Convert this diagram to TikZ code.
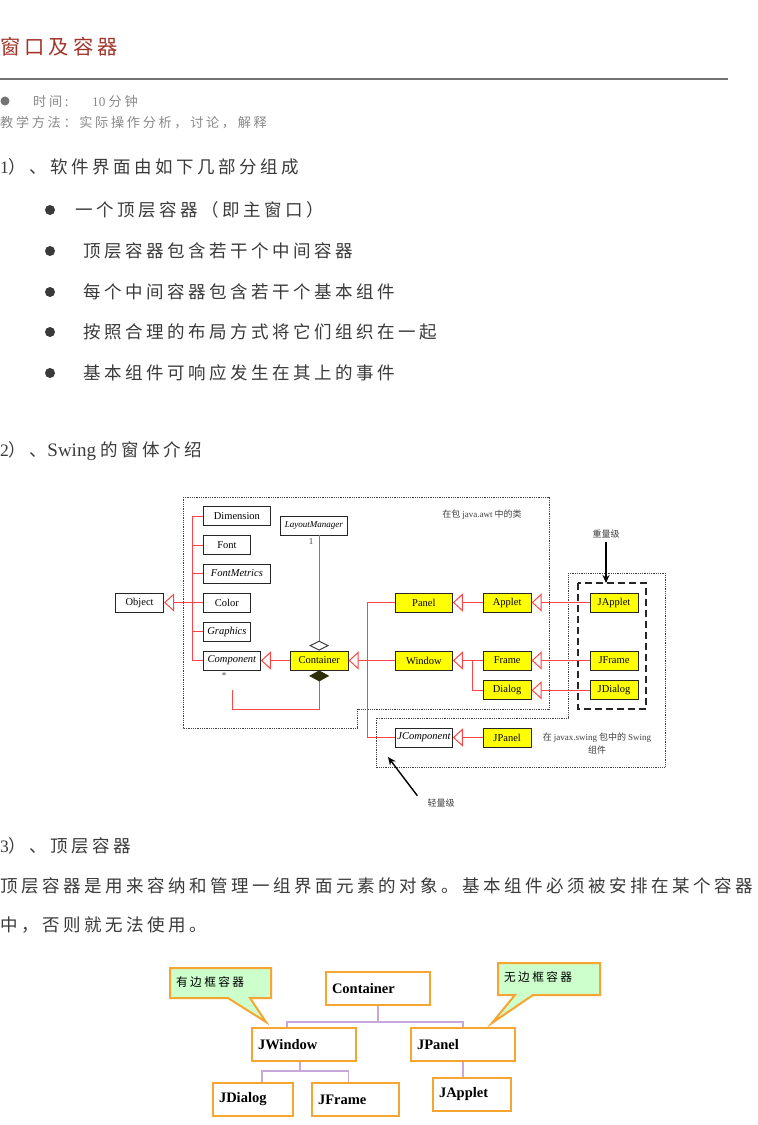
\documentclass[tikz,border=0pt]{standalone}
\usepackage{fontspec}
\setmainfont{Liberation Serif}
\newfontfamily\cjk[LetterSpace=20]{Noto Sans CJK SC}
\newfontfamily\cjksm{Noto Sans CJK SC}
\usetikzlibrary{arrows.meta,positioning,calc}
\definecolor{wintitle}{HTML}{A3342A}
\definecolor{wingray}{HTML}{8A8A8A}
\definecolor{winink}{HTML}{3A3A3A}
\definecolor{winred}{HTML}{FF4545}
\definecolor{winyellow}{HTML}{FFFF00}
\definecolor{winorange}{HTML}{F6A530}
\definecolor{wingreen}{HTML}{CCFFCC}
\definecolor{winlilac}{HTML}{C8A8DA}
\definecolor{winolive}{HTML}{2E2E08}
\newcommand{\pxsize}[1]{\fontsize{#1}{#1}\selectfont}
\tikzset{
  pageText/.style={anchor=base west, inner sep=0pt, text=winink},
  dotItem/.style={circle, fill=winink, inner sep=0pt, minimum size=10pt},
  classBox/.style={draw=black!85, fill=white, line width=0.8pt, minimum height=19pt, inner sep=0pt, anchor=west, font=\pxsize{10.5}},
  swingBox/.style={classBox, fill=winyellow},
  tagText/.style={inner sep=0pt, text=black!75, font=\fontsize{9}{13}\selectfont},
  umlLine/.style={draw=winred, line width=1pt},
  inheritArrow/.style={umlLine, -{Triangle[open, length=10pt, width=18pt]}},
  pkgFrame/.style={draw=black!75, line width=0.8pt, densely dotted},
  weightArrow/.style={-{Stealth[length=8pt, width=7pt]}, line width=1.4pt, draw=black},
  topBox/.style={draw=winorange, line width=2pt, fill=white, minimum height=33pt, inner xsep=6pt, align=left, font=\pxsize{14.5}\bfseries},
  treeLine/.style={draw=winlilac, line width=1.6pt},
  calloutShape/.style={draw=winorange, line width=2pt, fill=wingreen, line join=miter}
}
\begin{document}
\begin{tikzpicture}[x=1pt, y=-1pt]
  \useasboundingbox[fill=white] (0,0) rectangle (758,1125);

  % heading
  \node[pageText, text=wintitle, font=\cjk\pxsize{20.3}] (title) at (0,54.7) {窗口及容器};
  \draw[black!55, line width=1.2pt] (0,79) -- (728,79);
  \node[circle, fill=black!55, inner sep=0pt, minimum size=9pt] (timedot) at (5,101) {};
  \node[pageText, text=wingray, font=\cjk\pxsize{13.2}] (timetext) at (33,106) {时间:};
  \node[pageText, text=wingray, font=\pxsize{13.2}] (timeval) at (92,106) {10 {\cjk 分钟}};
  \node[pageText, text=wingray, font=\cjk\pxsize{13.2}] (method) at (0,127) {教学方法：实际操作分析，讨论，解释};

  % part 1
  \node[pageText, font=\pxsize{17.5}] (sec1) at (0,173.6) {1{\cjk ）、软件界面由如下几部分组成}};
  \node[dotItem] (dot1) at (50,210) {};
  \node[pageText, font=\cjk\pxsize{17.5}] (item1) at (75,216.6) {一个顶层容器（即主窗口）};
  \node[dotItem] (dot2) at (50,251) {};
  \node[pageText, font=\cjk\pxsize{17.5}] (item2) at (83,257.6) {顶层容器包含若干个中间容器};
  \node[dotItem] (dot3) at (50,292) {};
  \node[pageText, font=\cjk\pxsize{17.5}] (item3) at (83,298.6) {每个中间容器包含若干个基本组件};
  \node[dotItem] (dot4) at (50,332) {};
  \node[pageText, font=\cjk\pxsize{17.5}] (item4) at (83,338.6) {按照合理的布局方式将它们组织在一起};
  \node[dotItem] (dot5) at (50,373) {};
  \node[pageText, font=\cjk\pxsize{17.5}] (item5) at (83,379.6) {基本组件可响应发生在其上的事件};

  % part 2
  \node[pageText, font=\pxsize{17.5}] (sec2) at (0,456.6) {2{\cjk ）、}{\pxsize{19}Swing} {\cjk 的窗体介绍}};

  % package frames
  \draw[pkgFrame] (183,497) -- (549,497) -- (549,709) -- (357,709) -- (357,728) -- (183,728) -- cycle;
  \draw[pkgFrame] (568,573) -- (665,573) -- (665,767) -- (376,767) -- (376,718) -- (568,718) -- cycle;
  \draw[dashed, dash pattern=on 7pt off 4pt, line width=1.5pt, black!85] (578,583) rectangle (646,709);

  % classes
  \node[classBox, minimum width=67pt] (dimension) at (203,516) {Dimension};
  \node[classBox, minimum width=67pt, font=\pxsize{9}\itshape] (layout) at (280,525.5) {LayoutManager};
  \node[classBox, minimum width=47pt] (font) at (203,545) {Font};
  \node[classBox, minimum width=67pt, font=\pxsize{10.5}\itshape] (fontmetrics) at (203,573.5) {FontMetrics};
  \node[classBox, minimum width=47pt] (color) at (203,602.5) {Color};
  \node[classBox, minimum width=47pt, font=\pxsize{10.5}\itshape] (graphics) at (203,631.5) {Graphics};
  \node[classBox, minimum width=57pt, font=\pxsize{10.5}\itshape] (component) at (203,660.5) {Component};
  \node[classBox, minimum width=48pt, anchor=east, left=39pt of color] (object) {Object};
  \node[swingBox, minimum width=58pt, right=29pt of component] (container) {Container};
  \node[swingBox, minimum width=57pt] (panel) at (395,602.5) {Panel};
  \node[swingBox, minimum width=57pt] (window) at (395,660.5) {Window};
  \node[swingBox, minimum width=48pt, right=30pt of panel] (applet) {Applet};
  \node[swingBox, minimum width=48pt, right=30pt of window] (frame) {Frame};
  \node[swingBox, minimum width=48pt, anchor=north, below=10pt of frame] (dialog) {Dialog};
  \node[swingBox, minimum width=48pt, right=58pt of applet] (japplet) {JApplet};
  \node[swingBox, minimum width=48pt, right=58pt of frame] (jframe) {JFrame};
  \node[swingBox, minimum width=48pt, right=58pt of dialog] (jdialog) {JDialog};
  \node[classBox, minimum width=57pt, font=\pxsize{10.5}\itshape] (jcomponent) at (395,737.5) {JComponent};
  \node[swingBox, minimum width=48pt, right=30pt of jcomponent] (jpanel) {JPanel};
  \node[tagText] (onelabel) at (311,542) {1};
  \node[tagText] (manylabel) at (224,676) {*};

  % labels
  \node[tagText] (awtnote) at (482,515) {\cjksm 在包 {\rmfamily java.awt} 中的类};
  \node[tagText, font=\fontsize{9}{13}\cjksm, align=center] (swingnote) at (597,743.5) {在 {\rmfamily javax.swing} 包中的 {\rmfamily Swing}\\组件};
  \node[tagText] (heavylabel) at (606,534) {\cjksm 重量级};
  \node[tagText] (lightlabel) at (441,803) {\cjksm 轻量级};
  \coordinate (heavytip) at (606,583);
  \coordinate (lighttip) at (388,757);
  \coordinate (partend) at (232,690);

  % connectors
  \draw[umlLine] (dimension.west) -- ++(-11,0) |- (component.west);
  \draw[umlLine] (font.west) -- ++(-11,0);
  \draw[umlLine] (fontmetrics.west) -- ++(-11,0);
  \draw[umlLine] (graphics.west) -- ++(-11,0);
  \draw[inheritArrow] (color.west) -- (object.east);
  \draw[inheritArrow] (container.west) -- (component.east);
  \draw[umlLine, {Diamond[length=10pt, width=20pt, color=black!75, fill=white]}-] (container.north) -- (container.north |- layout.south);
  \draw[umlLine, {Diamond[length=11pt, width=20pt, color=winolive]}-] (container.south) -- ++(0,39) -| (partend);
  \draw[umlLine] (panel.west) -- ++(-28,0) |- (jcomponent.west);
  \draw[inheritArrow] (window.west) -- (container.east);
  \draw[inheritArrow] (applet.west) -- (panel.east);
  \draw[inheritArrow] (frame.west) -- (window.east);
  \draw[umlLine] (dialog.west) -- ++(-10,0) |- (frame.west);
  \draw[inheritArrow] (japplet.west) -- (applet.east);
  \draw[inheritArrow] (jframe.west) -- (frame.east);
  \draw[inheritArrow] (jdialog.west) -- (dialog.east);
  \draw[inheritArrow] (jpanel.west) -- (jcomponent.east);
  \draw[weightArrow] ([yshift=-4pt]heavylabel.south) -- (heavytip);
  \draw[weightArrow] ([xshift=-10pt, yshift=3pt]lightlabel.north west) -- (lighttip);

  % part 3
  \node[pageText, font=\pxsize{17.5}] (sec3) at (0,852.6) {3{\cjk ）、顶层容器}};
  \node[pageText, font=\cjk\pxsize{17.5}] (para1) at (0,892.6) {顶层容器是用来容纳和管理一组界面元素的对象。基本组件必须被安排在某个容器};
  \node[pageText, font=\cjk\pxsize{17.5}] (para2) at (0,931.6) {中，否则就无法使用。};

  % top-level containers
  \draw[calloutShape] (170,968) -- (271,968) -- (271,998) -- (250,998) -- (266,1022) -- (228,998) -- (170,998) -- cycle;
  \draw[calloutShape] (498,963) -- (600,963) -- (600,995) -- (533,995) -- (492,1023) -- (515,995) -- (498,995) -- cycle;
  \node[anchor=west, inner sep=0pt, font=\cjk\pxsize{11.7}] (framedtag) at (176,982) {有边框容器};
  \node[anchor=west, inner sep=0pt, font=\cjk\pxsize{11.7}] (plaintag) at (504,977) {无边框容器};
  \node[topBox, text width=92pt] (tcontainer) at (378,988.5) {Container};
  \node[topBox, text width=92pt] (tjwindow) at (304,1044.5) {JWindow};
  \node[topBox, text width=92pt] (tjpanel) at (463,1044.5) {JPanel};
  \node[topBox, text width=68pt] (tjdialog) at (253,1099.5) {JDialog};
  \node[topBox, text width=75pt] (tjframe) at (355.5,1099.5) {JFrame};
  \node[topBox, text width=66pt] (tjapplet) at (472,1094) {JApplet};
  \draw[treeLine] (tcontainer.south) -- ++(0,16) -| ([xshift=-17pt]tjwindow.north);
  \draw[treeLine] (tcontainer.south) -- ++(0,16) -| (tjpanel.north);
  \draw[treeLine] ([xshift=-4pt]tjwindow.south) -- ++(0,9) -| ([xshift=9pt]tjdialog.north);
  \draw[treeLine] ([xshift=-4pt]tjwindow.south) -- ++(0,9) -| ([xshift=-7pt]tjframe.north);
  \draw[treeLine] (tjpanel.south) -- (tjpanel.south |- tjapplet.north);
\end{tikzpicture}
\end{document}
